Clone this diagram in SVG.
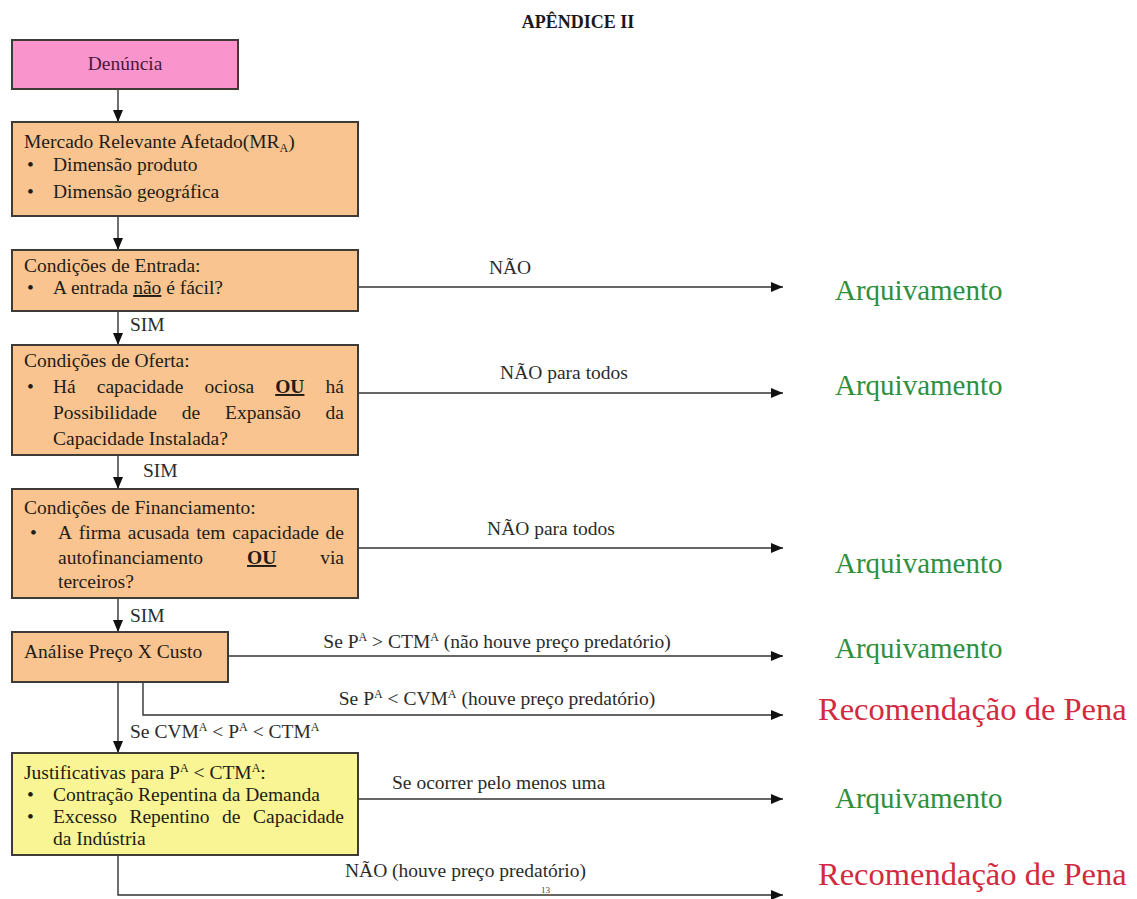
<svg xmlns="http://www.w3.org/2000/svg" width="1137" height="899" viewBox="0 0 1137 899">
<defs>
<marker id="arr" markerUnits="userSpaceOnUse" markerWidth="12" markerHeight="10" refX="12" refY="5" orient="auto">
<path d="M0,0 L12,5 L0,10 z" fill="#111"/>
</marker>
<style>
text{font-family:"Liberation Serif","Times New Roman",serif;fill:#221c16;}
.bx{font-size:19.5px;}
.lb{font-size:19.5px;fill:#2b2b2b;}
.box{stroke:#3e3a36;stroke-width:2;}
.or{fill:#fac490;}
.pk{fill:#fa94cc;}
.ye{fill:#f9f594;}
.con{fill:none;stroke:#333;stroke-width:1.4;}
.arq{font-size:29px;fill:#2f8f3c;}
.rec{font-size:32.5px;fill:#d22a3e;}
.u{text-decoration:underline;}
.b{font-weight:bold;}
</style>
</defs>
<rect width="1137" height="899" fill="#ffffff"/>
<text x="578" y="28" text-anchor="middle" font-size="18" font-weight="bold" style="fill:#1a1a1a">APÊNDICE II</text>

<g id="connectors">
<path class="con" d="M118,89 V122" marker-end="url(#arr)"/>
<path class="con" d="M118,216 V250" marker-end="url(#arr)"/>
<path class="con" d="M118,311 V345" marker-end="url(#arr)"/>
<path class="con" d="M118,455 V489" marker-end="url(#arr)"/>
<path class="con" d="M118,598 V632" marker-end="url(#arr)"/>
<path class="con" d="M118,682 V753" marker-end="url(#arr)"/>
<path class="con" d="M358,287 H783" marker-end="url(#arr)"/>
<path class="con" d="M358,393 H783" marker-end="url(#arr)"/>
<path class="con" d="M358,548 H783" marker-end="url(#arr)"/>
<path class="con" d="M228,656 H783" marker-end="url(#arr)"/>
<path class="con" d="M143,682 V715 H783" marker-end="url(#arr)"/>
<path class="con" d="M358,799 H783" marker-end="url(#arr)"/>
<path class="con" d="M118,855 V895 H783" marker-end="url(#arr)"/>
<text class="lb" x="130" y="331">SIM</text>
<text class="lb" x="143" y="477">SIM</text>
<text class="lb" x="130" y="622">SIM</text>
<text class="lb" x="510" y="274" text-anchor="middle">NÃO</text>
<text class="lb" x="564" y="379" text-anchor="middle">NÃO para todos</text>
<text class="lb" x="551" y="535" text-anchor="middle">NÃO para todos</text>
<text class="lb" x="497" y="648" text-anchor="middle">Se P<tspan font-size="12" dy="-7">A</tspan><tspan dy="7"> &gt; CTM</tspan><tspan font-size="12" dy="-7">A</tspan><tspan dy="7"> (não houve preço predatório)</tspan></text>
<text class="lb" x="497" y="705" text-anchor="middle">Se P<tspan font-size="12" dy="-7">A</tspan><tspan dy="7"> &lt; CVM</tspan><tspan font-size="12" dy="-7">A</tspan><tspan dy="7"> (houve preço predatório)</tspan></text>
<text class="lb" x="130" y="738">Se CVM<tspan font-size="12" dy="-7">A</tspan><tspan dy="7"> &lt; P</tspan><tspan font-size="12" dy="-7">A</tspan><tspan dy="7"> &lt; CTM</tspan><tspan font-size="12" dy="-7">A</tspan></text>
<text class="lb" x="392" y="789">Se ocorrer pelo menos uma</text>
<text class="lb" x="345" y="877">NÃO (houve preço predatório)</text>
<text x="541" y="893" font-size="9" style="fill:#444">13</text>
</g>

<g id="n-denuncia">
<rect class="box pk" x="12" y="40" width="226" height="49"/>
<text class="bx" x="125" y="70" text-anchor="middle" style="fill:#4a1838">Denúncia</text>
</g>

<g id="n-mercado">
<rect class="box or" x="12" y="122" width="346" height="94"/>
<text class="bx" x="24" y="148">Mercado Relevante Afetado(MR<tspan font-size="12" dy="4">A</tspan><tspan dy="-4">)</tspan></text>
<text class="bx" x="27" y="171">•</text>
<text class="bx" x="53" y="171">Dimensão produto</text>
<text class="bx" x="27" y="198">•</text>
<text class="bx" x="53" y="198">Dimensão geográfica</text>
</g>

<g id="n-entrada">
<rect class="box or" x="12" y="250" width="346" height="61"/>
<text class="bx" x="24" y="272">Condições de Entrada:</text>
<text class="bx" x="27" y="294">•</text>
<text class="bx" x="53" y="294">A entrada <tspan class="u">não</tspan> é fácil?</text>
</g>

<g id="n-oferta">
<rect class="box or" x="12" y="345" width="346" height="110"/>
<text class="bx" x="24" y="367">Condições de Oferta:</text>
<text class="bx" x="27" y="393">•</text>
<text class="bx" y="393"><tspan x="53">Há</tspan><tspan x="96.8">capacidade</tspan><tspan x="204.4">ociosa</tspan><tspan x="275.2" class="b u">OU</tspan><tspan x="325.5">há</tspan></text>
<text class="bx" y="419"><tspan x="53">Possibilidade</tspan><tspan x="181.8">de</tspan><tspan x="225">Expansão</tspan><tspan x="325.6">da</tspan></text>
<text class="bx" x="53" y="445">Capacidade Instalada?</text>
</g>

<g id="n-financiamento">
<rect class="box or" x="12" y="489" width="346" height="109"/>
<text class="bx" x="24" y="514">Condições de Financiamento:</text>
<text class="bx" x="30" y="539">•</text>
<text class="bx" y="539"><tspan x="58">A</tspan><tspan x="78.8">firma</tspan><tspan x="127.8">acusada</tspan><tspan x="196.2">tem</tspan><tspan x="232.2">capacidade</tspan><tspan x="325.6">de</tspan></text>
<text class="bx" y="564"><tspan x="58">autofinanciamento</tspan><tspan x="247" class="b u">OU</tspan><tspan x="320.2">via</tspan></text>
<text class="bx" x="58" y="588">terceiros?</text>
</g>

<g id="n-analise">
<rect class="box or" x="12" y="632" width="216" height="50"/>
<text class="bx" x="24" y="658">Análise Preço X Custo</text>
</g>

<g id="n-justificativas">
<rect class="box ye" x="12" y="753" width="346" height="102"/>
<text class="bx" x="24" y="779">Justificativas para P<tspan font-size="12" dy="-7">A</tspan><tspan dy="7"> &lt; CTM</tspan><tspan font-size="12" dy="-7">A</tspan><tspan dy="7">:</tspan></text>
<text class="bx" x="27" y="801">•</text>
<text class="bx" x="53" y="801">Contração Repentina da Demanda</text>
<text class="bx" x="27" y="823">•</text>
<text class="bx" y="823"><tspan x="53">Excesso</tspan><tspan x="129.4">Repentino</tspan><tspan x="222.1">de</tspan><tspan x="253">Capacidade</tspan></text>
<text class="bx" x="53" y="845">da Indústria</text>
</g>

<g id="n-arq1"><text class="arq" x="835" y="300">Arquivamento</text></g>
<g id="n-arq2"><text class="arq" x="835" y="395">Arquivamento</text></g>
<g id="n-arq3"><text class="arq" x="835" y="573">Arquivamento</text></g>
<g id="n-arq4"><text class="arq" x="835" y="658">Arquivamento</text></g>
<g id="n-rec1"><text class="rec" x="818" y="720">Recomendação de Pena</text></g>
<g id="n-arq5"><text class="arq" x="835" y="808">Arquivamento</text></g>
<g id="n-rec2"><text class="rec" x="818" y="885">Recomendação de Pena</text></g>
</svg>
